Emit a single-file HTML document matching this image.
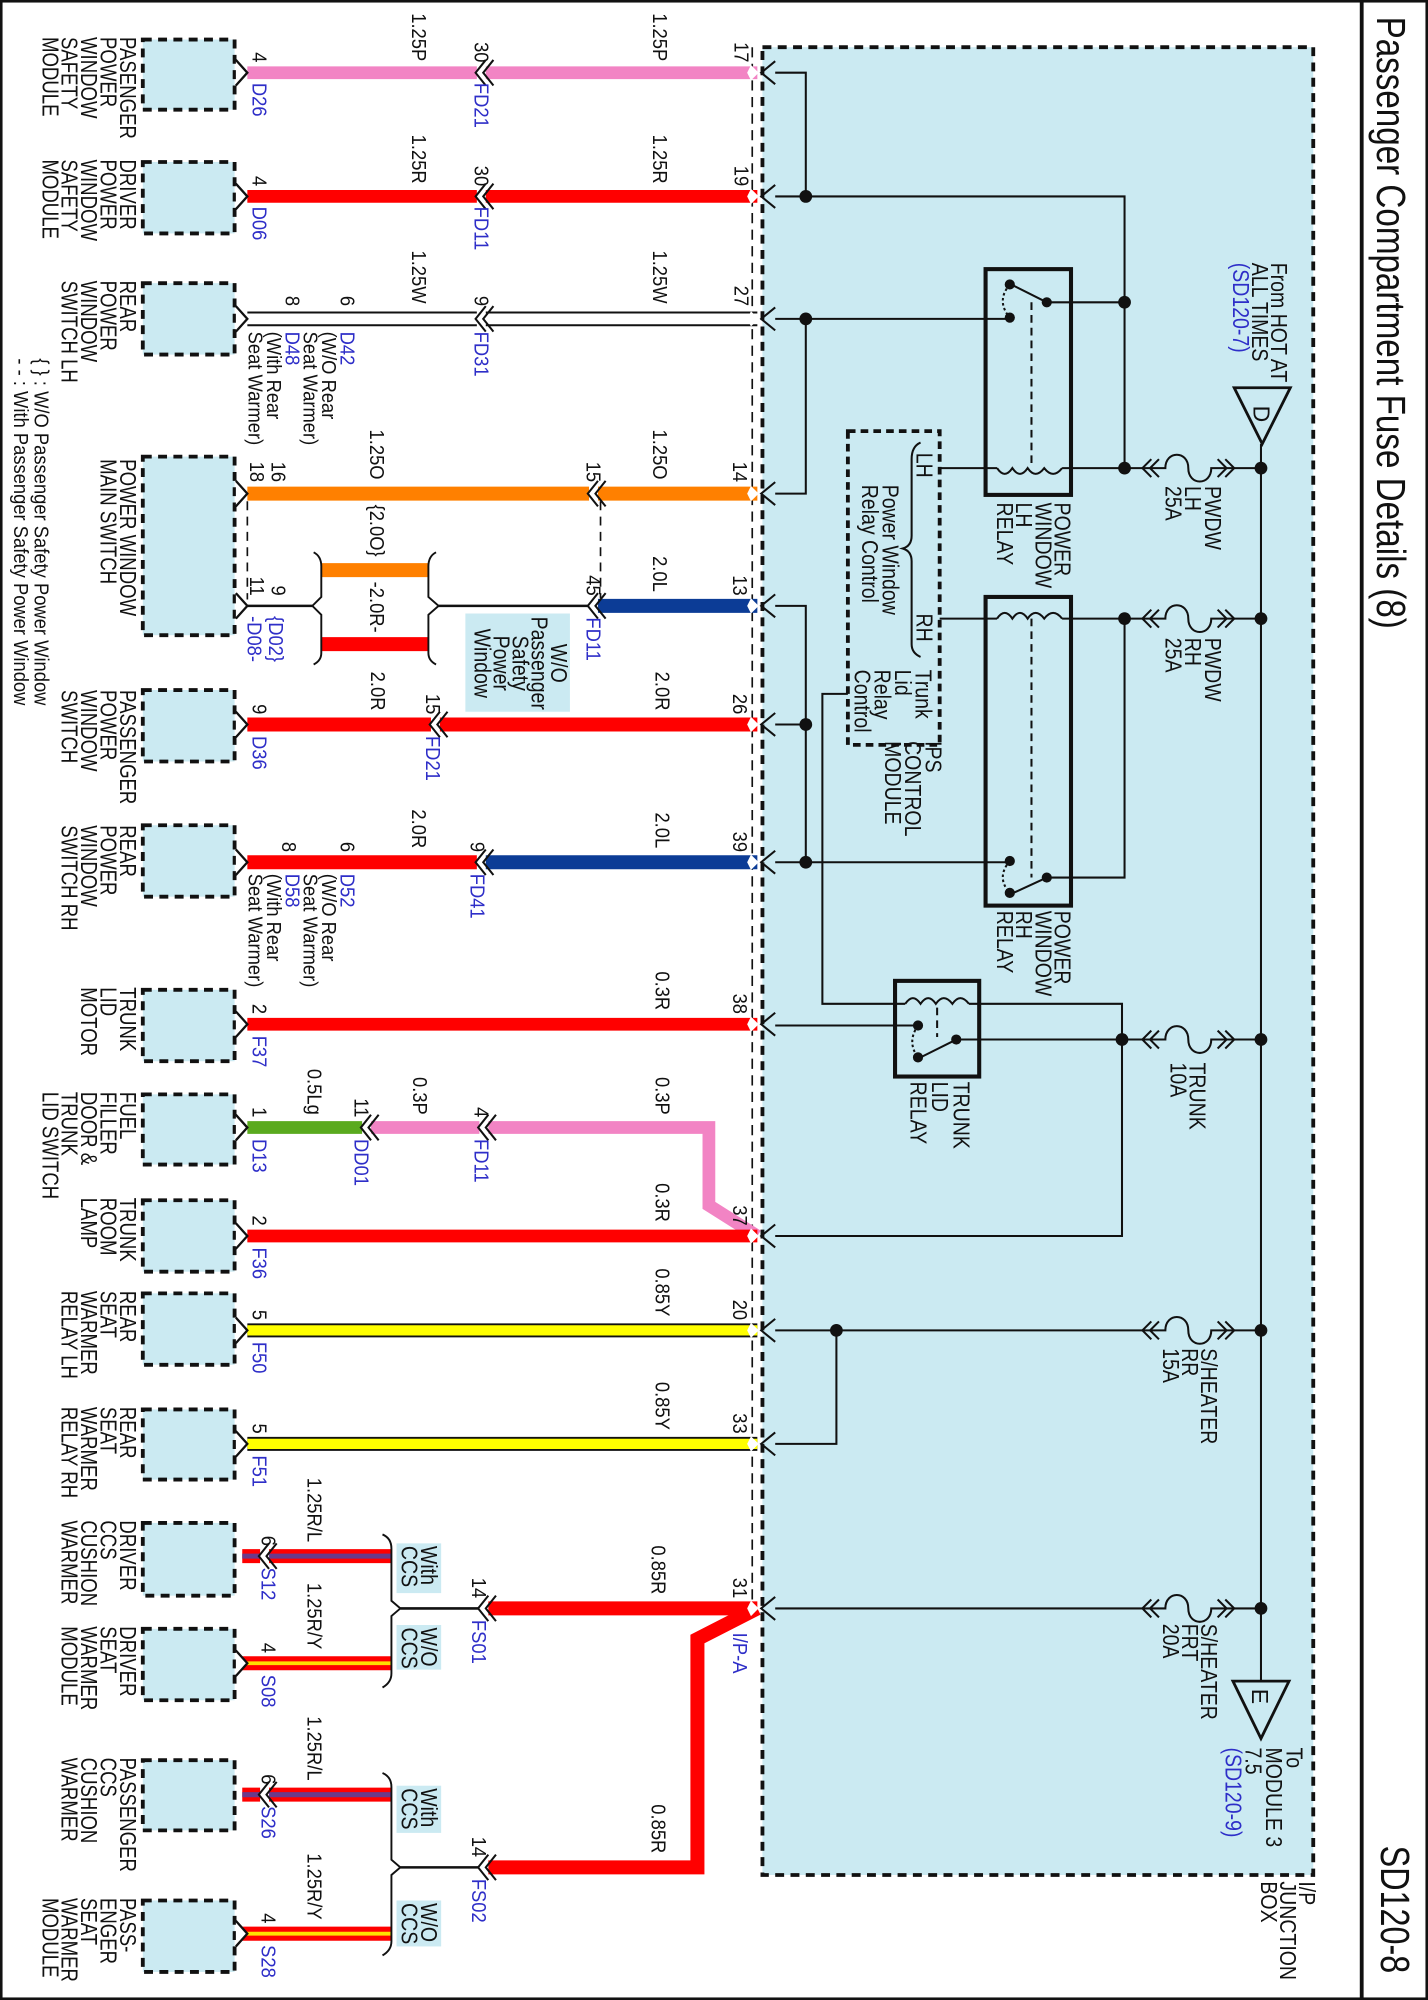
<!DOCTYPE html>
<html><head><meta charset="utf-8"><style>
html,body{margin:0;padding:0;background:#fff}
svg{display:block}
text{font-family:"Liberation Sans",Arial,sans-serif;fill:#111}
.m{font-size:18px}
.s{font-size:16px}
.b{fill:#2e2ec8}
.e{text-anchor:end}
.c{text-anchor:middle}
</style></head><body>
<svg width="1428" height="2000" viewBox="0 0 1120 1568" preserveAspectRatio="none" xmlns="http://www.w3.org/2000/svg">
<defs>
<g id="mc"><rect x="-4" y="-7" width="7" height="14" fill="#fff"/><polyline points="3,-10 -5,0 3,10" fill="none" stroke="#111" stroke-width="1.6"/><polyline points="9,-10 1,0 9,10" fill="none" stroke="#111" stroke-width="1.6"/></g>
<g id="rc"><polygon points="-5,-6 1,0 -5,6 -8,0" fill="#fff"/><polyline points="14,-9 3,0 14,9" fill="none" stroke="#111" stroke-width="1.6"/></g>
<g id="lc"><polyline points="-7,-10 2,0 -7,10" fill="#fff" stroke="#111" stroke-width="1.8"/></g>
<g id="fuse" fill="none" stroke="#111" stroke-width="1.6">
<polyline points="903,-7 896,0 903,7"/><polyline points="909,-7 902,0 909,7"/>
<path d="M896,0 H914 C914,-14 932,-14 932,0 C932,14 950,14 950,0 H968"/>
<polyline points="955,-7 962,0 955,7"/><polyline points="961,-7 968,0 961,7"/>
<path d="M968,0 H989"/></g>
</defs>

<!-- frame -->
<rect x="1" y="1" width="1118" height="1566" fill="none" stroke="#111" stroke-width="2"/>
<line x1="1068" y1="0" x2="1068" y2="1568" stroke="#111" stroke-width="3"/>
<text style="font-size:32px" textLength="480" lengthAdjust="spacingAndGlyphs" transform="translate(1080,13) rotate(90)">Passenger Compartment Fuse Details (8)</text>
<text style="font-size:32px" textLength="100" lengthAdjust="spacingAndGlyphs" transform="translate(1083,1447) rotate(90)">SD120-8</text>

<!-- junction box -->
<rect x="598" y="37" width="432" height="1433" fill="#cbeaf2" stroke="#111" stroke-width="3" stroke-dasharray="7 5"/>
<line x1="590" y1="37" x2="590" y2="1254" stroke="#111" stroke-width="1.3" stroke-dasharray="8 5"/>

<!-- module boxes -->
<g fill="#cbeaf2" stroke="#111" stroke-width="3" stroke-dasharray="7 5">
<rect x="112" y="31" width="72" height="55"/>
<rect x="112" y="127" width="72" height="56"/>
<rect x="112" y="222" width="72" height="56"/>
<rect x="112" y="358" width="72" height="140"/>
<rect x="112" y="541" width="72" height="56"/>
<rect x="112" y="647" width="72" height="56"/>
<rect x="112" y="776" width="72" height="56"/>
<rect x="112" y="858" width="72" height="55"/>
<rect x="112" y="941" width="72" height="56"/>
<rect x="112" y="1014" width="72" height="56"/>
<rect x="112" y="1105" width="72" height="55"/>
<rect x="112" y="1194" width="72" height="57"/>
<rect x="112" y="1277" width="72" height="56"/>
<rect x="112" y="1380" width="72" height="55"/>
<rect x="112" y="1490" width="72" height="56"/>
</g>

<!-- module labels -->
<g class="m">
<text class="m" transform="translate(94,29) rotate(90) scale(.81,1)"><tspan x="0">PASENGER</tspan><tspan x="0" dy="15.2">POWER</tspan><tspan x="0" dy="15.2">WINDOW</tspan><tspan x="0" dy="15.2">SAFETY</tspan><tspan x="0" dy="15.2">MODULE</tspan></text>
<text class="m" transform="translate(94,125) rotate(90) scale(.81,1)"><tspan x="0">DRIVER</tspan><tspan x="0" dy="15.2">POWER</tspan><tspan x="0" dy="15.2">WINDOW</tspan><tspan x="0" dy="15.2">SAFETY</tspan><tspan x="0" dy="15.2">MODULE</tspan></text>
<text class="m" transform="translate(94,220) rotate(90) scale(.81,1)"><tspan x="0">REAR</tspan><tspan x="0" dy="15.2">POWER</tspan><tspan x="0" dy="15.2">WINDOW</tspan><tspan x="0" dy="15.2">SWITCH LH</tspan></text>
<text class="m" transform="translate(94,360) rotate(90) scale(.81,1)"><tspan x="0">POWER WINDOW</tspan><tspan x="0" dy="15.2">MAIN SWITCH</tspan></text>
<text class="m" transform="translate(94,541) rotate(90) scale(.81,1)"><tspan x="0">PASSENGER</tspan><tspan x="0" dy="15.2">POWER</tspan><tspan x="0" dy="15.2">WINDOW</tspan><tspan x="0" dy="15.2">SWITCH</tspan></text>
<text class="m" transform="translate(94,647) rotate(90) scale(.81,1)"><tspan x="0">REAR</tspan><tspan x="0" dy="15.2">POWER</tspan><tspan x="0" dy="15.2">WINDOW</tspan><tspan x="0" dy="15.2">SWITCH RH</tspan></text>
<text class="m" transform="translate(94,774) rotate(90) scale(.81,1)"><tspan x="0">TRUNK</tspan><tspan x="0" dy="15.2">LID</tspan><tspan x="0" dy="15.2">MOTOR</tspan></text>
<text class="m" transform="translate(94,856) rotate(90) scale(.81,1)"><tspan x="0">FUEL</tspan><tspan x="0" dy="15.2">FILLER</tspan><tspan x="0" dy="15.2">DOOR &amp;</tspan><tspan x="0" dy="15.2">TRUNK</tspan><tspan x="0" dy="15.2">LID SWITCH</tspan></text>
<text class="m" transform="translate(94,939) rotate(90) scale(.81,1)"><tspan x="0">TRUNK</tspan><tspan x="0" dy="15.2">ROOM</tspan><tspan x="0" dy="15.2">LAMP</tspan></text>
<text class="m" transform="translate(94,1012) rotate(90) scale(.81,1)"><tspan x="0">REAR</tspan><tspan x="0" dy="15.2">SEAT</tspan><tspan x="0" dy="15.2">WARMER</tspan><tspan x="0" dy="15.2">RELAY LH</tspan></text>
<text class="m" transform="translate(94,1103) rotate(90) scale(.81,1)"><tspan x="0">REAR</tspan><tspan x="0" dy="15.2">SEAT</tspan><tspan x="0" dy="15.2">WARMER</tspan><tspan x="0" dy="15.2">RELAY RH</tspan></text>
<text class="m" transform="translate(94,1192) rotate(90) scale(.81,1)"><tspan x="0">DRIVER</tspan><tspan x="0" dy="15.2">CCS</tspan><tspan x="0" dy="15.2">CUSHION</tspan><tspan x="0" dy="15.2">WARMER</tspan></text>
<text class="m" transform="translate(94,1275) rotate(90) scale(.81,1)"><tspan x="0">DRIVER</tspan><tspan x="0" dy="15.2">SEAT</tspan><tspan x="0" dy="15.2">WARMER</tspan><tspan x="0" dy="15.2">MODULE</tspan></text>
<text class="m" transform="translate(94,1378) rotate(90) scale(.81,1)"><tspan x="0">PASSENGER</tspan><tspan x="0" dy="15.2">CCS</tspan><tspan x="0" dy="15.2">CUSHION</tspan><tspan x="0" dy="15.2">WARMER</tspan></text>
<text class="m" transform="translate(94,1488) rotate(90) scale(.81,1)"><tspan x="0">PASS-</tspan><tspan x="0" dy="15.2">ENGER</tspan><tspan x="0" dy="15.2">SEAT</tspan><tspan x="0" dy="15.2">WARMER</tspan><tspan x="0" dy="15.2">MODULE</tspan></text>
<text class="s" transform="translate(27,281) rotate(90) scale(.9,1)">{ } : W/O Passenger Safety Power Window</text>
<text class="s" transform="translate(11,281) rotate(90) scale(.9,1)">- - : With Passenger Safety Power Window</text>
</g>

<!-- wires -->
<g fill="none" stroke-linecap="butt">
<line x1="194" y1="57" x2="594" y2="57" stroke="#f284c4" stroke-width="10"/>
<line x1="194" y1="154" x2="594" y2="154" stroke="#ff0000" stroke-width="10"/>
<line x1="194" y1="245" x2="594" y2="245" stroke="#111" stroke-width="1.5"/>
<line x1="194" y1="255" x2="594" y2="255" stroke="#111" stroke-width="1.5"/>
<line x1="194" y1="387" x2="594" y2="387" stroke="#ff8000" stroke-width="11"/>
<line x1="463" y1="475" x2="594" y2="475" stroke="#0c3c96" stroke-width="11"/>
<line x1="194" y1="475" x2="245" y2="475" stroke="#111" stroke-width="2"/>
<line x1="344" y1="475" x2="463" y2="475" stroke="#111" stroke-width="2"/>
<line x1="252" y1="447" x2="336" y2="447" stroke="#ff8000" stroke-width="11"/>
<line x1="252" y1="505" x2="336" y2="505" stroke="#ff0000" stroke-width="11"/>
<path d="M246,433 Q252,436 252,444 V468 L245,475 L252,482 V512 Q252,518 246,521" stroke="#111" stroke-width="1.5"/>
<path d="M342,433 Q336,436 336,444 V468 L344,475 L336,482 V512 Q336,518 342,521" stroke="#111" stroke-width="1.5"/>
<line x1="194" y1="393" x2="194" y2="470" stroke="#111" stroke-width="1.3" stroke-dasharray="7 5"/>
<line x1="471" y1="393" x2="471" y2="469" stroke="#111" stroke-width="1.3" stroke-dasharray="7 5"/>
<line x1="194" y1="568" x2="594" y2="568" stroke="#ff0000" stroke-width="11"/>
<line x1="194" y1="676" x2="375" y2="676" stroke="#ff0000" stroke-width="11"/>
<line x1="375" y1="676" x2="594" y2="676" stroke="#0c3c96" stroke-width="11"/>
<line x1="194" y1="803" x2="594" y2="803" stroke="#ff0000" stroke-width="10"/>
<line x1="194" y1="884" x2="285" y2="884" stroke="#5aaa1e" stroke-width="10"/>
<path d="M285,884 H556 V945 L594,969" stroke="#f284c4" stroke-width="10"/>
<line x1="194" y1="969" x2="594" y2="969" stroke="#ff0000" stroke-width="10"/>
<line x1="194" y1="1043" x2="594" y2="1043" stroke="#111" stroke-width="11"/>
<line x1="194" y1="1043" x2="594" y2="1043" stroke="#ffff00" stroke-width="8"/>
<line x1="194" y1="1132" x2="594" y2="1132" stroke="#111" stroke-width="11"/>
<line x1="194" y1="1132" x2="594" y2="1132" stroke="#ffff00" stroke-width="8"/>
<!-- CCS -->
<line x1="190" y1="1220" x2="307" y2="1220" stroke="#ff0000" stroke-width="11"/>
<line x1="190" y1="1220" x2="307" y2="1220" stroke="#6a3a8a" stroke-width="4"/>
<line x1="190" y1="1304" x2="307" y2="1304" stroke="#ff0000" stroke-width="11"/>
<line x1="190" y1="1304" x2="307" y2="1304" stroke="#ffe000" stroke-width="3"/>
<line x1="190" y1="1407" x2="307" y2="1407" stroke="#ff0000" stroke-width="11"/>
<line x1="190" y1="1407" x2="307" y2="1407" stroke="#6a3a8a" stroke-width="4"/>
<line x1="190" y1="1516" x2="307" y2="1516" stroke="#ff0000" stroke-width="11"/>
<line x1="190" y1="1516" x2="307" y2="1516" stroke="#ffe000" stroke-width="3"/>
<path d="M300,1203 Q307,1206 307,1214 V1255 L314,1261 L307,1267 V1312 Q307,1319 300,1323" stroke="#111" stroke-width="1.5"/>
<path d="M300,1390 Q307,1393 307,1401 V1458 L314,1464 L307,1470 V1522 Q307,1529 300,1533" stroke="#111" stroke-width="1.5"/>
<line x1="314" y1="1261" x2="379" y2="1261" stroke="#111" stroke-width="2"/>
<line x1="314" y1="1464" x2="379" y2="1464" stroke="#111" stroke-width="2"/>
<path d="M379,1261 H594" stroke="#ff0000" stroke-width="11"/>
<path d="M594,1261 L547,1285 V1464 H379" stroke="#ff0000" stroke-width="11"/>
</g>

<!-- connectors -->
<g>
<use href="#lc" x="192" y="57"/><use href="#lc" x="192" y="154"/><use href="#lc" x="192" y="250"/>
<use href="#lc" x="192" y="387"/><use href="#lc" x="192" y="475"/><use href="#lc" x="192" y="568"/>
<use href="#lc" x="192" y="676"/><use href="#lc" x="192" y="803"/><use href="#lc" x="192" y="884"/>
<use href="#lc" x="192" y="969"/><use href="#lc" x="192" y="1043"/><use href="#lc" x="192" y="1132"/>
<use href="#lc" x="192" y="1304"/><use href="#lc" x="192" y="1516"/>
<use href="#mc" x="208" y="1220"/><use href="#mc" x="208" y="1407"/>
<use href="#mc" x="378" y="57"/><use href="#mc" x="378" y="154"/><use href="#mc" x="378" y="250"/>
<use href="#mc" x="466" y="387"/><use href="#mc" x="466" y="475"/><use href="#mc" x="342" y="568"/>
<use href="#mc" x="378" y="676"/><use href="#mc" x="288" y="884"/><use href="#mc" x="380" y="884"/>
<use href="#mc" x="380" y="1261"/><use href="#mc" x="380" y="1464"/>
<use href="#rc" x="594" y="57"/><use href="#rc" x="594" y="154"/><use href="#rc" x="594" y="250"/>
<use href="#rc" x="594" y="387"/><use href="#rc" x="594" y="475"/><use href="#rc" x="594" y="568"/>
<use href="#rc" x="594" y="676"/><use href="#rc" x="594" y="803"/><use href="#rc" x="594" y="969"/>
<use href="#rc" x="594" y="1043"/><use href="#rc" x="594" y="1132"/><use href="#rc" x="594" y="1261"/>
</g>

<!-- label boxes -->
<rect x="365" y="481" width="82" height="77" fill="#cbeaf2"/>
<rect x="311" y="1210" width="35" height="39" fill="#cbeaf2"/>
<rect x="311" y="1274" width="35" height="35" fill="#cbeaf2"/>
<rect x="311" y="1400" width="35" height="37" fill="#cbeaf2"/>
<rect x="311" y="1490" width="35" height="36" fill="#cbeaf2"/>

<!-- internal circuit -->
<g fill="none" stroke="#111" stroke-width="1.6">
<path d="M608,57 H632 V154"/>
<path d="M608,154 H882 V367"/>
<path d="M821,237 H882"/>
<path d="M608,250 H792"/>
<path d="M632,250 V387 H608"/>
<path d="M737,367 H782 M833,367 H896"/>
<path d="M737,485 H782 M833,485 H896"/>
<path d="M882,485 V688 H821"/>
<path d="M608,475 H632 V676 H608 M632,568 H608 M632,676 H792"/>
<path d="M665,544 H645 V787 H710 M760,787 H880 V969 H608"/>
<path d="M608,804 H720"/>
<path d="M750,815 H896"/>
<path d="M608,1043 H896 M656,1043 V1132 H608"/>
<path d="M608,1261 H896"/>
<path d="M989,348 V1318"/>
<!-- coils -->
<path d="M782,367 q6,9 12,0 q6,9 12,0 q6,9 13,0 q7,9 14,0"/>
<path d="M782,485 q6,-9 12,0 q6,-9 12,0 q6,-9 13,0 q7,-9 14,0"/>
<path d="M710,787 q6,-9 12,0 q6,-9 12,0 q6,-9 13,0 q6,-9 13,0"/>
<path d="M809,237 V367 M809,485 V688 M735,790 V813" stroke-dasharray="6 4"/>
<path d="M821,237 L795,224 M821,688 L795,700 M750,815 L722,829"/>
<path d="M792,223 Q781,236 792,249 M792,675 Q781,688 792,700 M720,804 Q711,817 720,829" stroke-dasharray="2 2"/>
<rect x="773" y="211" width="67" height="177" stroke-width="3.2"/>
<rect x="773" y="468" width="67" height="242" stroke-width="3.2"/>
<rect x="702" y="769" width="66" height="75" stroke-width="3.2"/>
<rect x="665" y="338" width="72" height="246" stroke-width="3" stroke-dasharray="6 4"/>
<path d="M722,347 Q715,350 715,360 V420 Q715,428 708,430 Q715,432 715,440 V505 Q715,512 722,515"/>
<polygon points="968,304 1012,304 990,348" stroke-width="2.2"/>
<polygon points="967,1318 1011,1318 989,1363" stroke-width="2.2"/>
</g>
<use href="#fuse" y="367"/><use href="#fuse" y="485"/><use href="#fuse" y="815"/>
<use href="#fuse" y="1043"/><use href="#fuse" y="1261"/>
<g fill="#111">
<circle cx="632" cy="154" r="5"/><circle cx="632" cy="250" r="5"/><circle cx="882" cy="237" r="5"/>
<circle cx="882" cy="367" r="5"/><circle cx="882" cy="485" r="5"/><circle cx="632" cy="568" r="5"/>
<circle cx="632" cy="676" r="5"/><circle cx="880" cy="815" r="5"/><circle cx="656" cy="1043" r="5"/>
<circle cx="989" cy="367" r="5"/><circle cx="989" cy="485" r="5"/><circle cx="989" cy="815" r="5"/>
<circle cx="989" cy="1043" r="5"/><circle cx="989" cy="1261" r="5"/>
<circle cx="792" cy="223" r="4"/><circle cx="821" cy="237" r="4"/><circle cx="792" cy="249" r="4"/>
<circle cx="792" cy="675" r="4"/><circle cx="821" cy="688" r="4"/><circle cx="792" cy="700" r="4"/>
<circle cx="720" cy="804" r="4"/><circle cx="750" cy="815" r="4"/><circle cx="720" cy="829" r="4"/>
</g>

<!-- internal labels -->
<text class="m" transform="translate(997,206) rotate(90) scale(.85,1)"><tspan x="0">From HOT AT</tspan><tspan x="0" dy="15">ALL TIMES</tspan><tspan x="0" dy="15" class="b">(SD120-7)</tspan></text>
<text class="m" transform="translate(983,318) rotate(90)">D</text>
<text class="m" transform="translate(982,1324) rotate(90)">E</text>
<text class="m" transform="translate(945,381) rotate(90) scale(.85,1)"><tspan x="0">PWDW</tspan><tspan x="0" dy="15.5">LH</tspan><tspan x="0" dy="15.5">25A</tspan></text>
<text class="m" transform="translate(945,500) rotate(90) scale(.85,1)"><tspan x="0">PWDW</tspan><tspan x="0" dy="15.5">RH</tspan><tspan x="0" dy="15.5">25A</tspan></text>
<text class="m" transform="translate(933,833) rotate(90) scale(.85,1)"><tspan x="0">TRUNK</tspan><tspan x="0" dy="15">10A</tspan></text>
<text class="m" transform="translate(942,1057) rotate(90) scale(.85,1)"><tspan x="0">S/HEATER</tspan><tspan x="0" dy="15">RR</tspan><tspan x="0" dy="15">15A</tspan></text>
<text class="m" transform="translate(942,1273) rotate(90) scale(.85,1)"><tspan x="0">S/HEATER</tspan><tspan x="0" dy="15">FRT</tspan><tspan x="0" dy="15">20A</tspan></text>
<text class="m" transform="translate(1009,1370) rotate(90) scale(.85,1)"><tspan x="0">To</tspan><tspan x="0" dy="16">MODULE 3</tspan><tspan x="0" dy="16">7.5</tspan><tspan x="0" dy="16" class="b">(SD120-9)</tspan></text>
<text class="m" transform="translate(1019,1475) rotate(90) scale(.85,1)"><tspan x="0">I/P</tspan><tspan x="0" dy="15">JUNCTION</tspan><tspan x="0" dy="15">BOX</tspan></text>
<text class="m" transform="translate(827,394) rotate(90) scale(.85,1)"><tspan x="0">POWER</tspan><tspan x="0" dy="15">WINDOW</tspan><tspan x="0" dy="15">LH</tspan><tspan x="0" dy="15">RELAY</tspan></text>
<text class="m" transform="translate(827,714) rotate(90) scale(.85,1)"><tspan x="0">POWER</tspan><tspan x="0" dy="15">WINDOW</tspan><tspan x="0" dy="15">RH</tspan><tspan x="0" dy="15">RELAY</tspan></text>
<text class="m" transform="translate(748,848) rotate(90) scale(.85,1)"><tspan x="0">TRUNK</tspan><tspan x="0" dy="17">LID</tspan><tspan x="0" dy="17">RELAY</tspan></text>
<text class="m" transform="translate(726,581) rotate(90) scale(.85,1)"><tspan x="0">IPS</tspan><tspan x="0" dy="16">CONTROL</tspan><tspan x="0" dy="16">MODULE</tspan></text>
<text class="m" transform="translate(719,355) rotate(90) scale(.85,1)">LH</text>
<text class="m" transform="translate(719,481) rotate(90) scale(.85,1)">RH</text>
<text class="m" transform="translate(692,380) rotate(90) scale(.85,1)"><tspan x="0">Power Window</tspan><tspan x="0" dy="16">Relay Control</tspan></text>
<text class="m" transform="translate(718,525) rotate(90) scale(.85,1)"><tspan x="0">Trunk</tspan><tspan x="0" dy="16">Lid</tspan><tspan x="0" dy="16">Relay</tspan><tspan x="0" dy="16">Control</tspan></text>
<text class="m c" transform="translate(432,520) rotate(90) scale(.85,1)"><tspan x="0">W/O</tspan><tspan x="0" dy="15">Passenger</tspan><tspan x="0" dy="15">Safety</tspan><tspan x="0" dy="15">Power</tspan><tspan x="0" dy="15">Window</tspan></text>
<text class="m" transform="translate(330,1212) rotate(90) scale(.85,1)"><tspan x="0">With</tspan><tspan x="0" dy="15">CCS</tspan></text>
<text class="m" transform="translate(330,1276) rotate(90) scale(.85,1)"><tspan x="0">W/O</tspan><tspan x="0" dy="15">CCS</tspan></text>
<text class="m" transform="translate(330,1402) rotate(90) scale(.85,1)"><tspan x="0">With</tspan><tspan x="0" dy="15">CCS</tspan></text>
<text class="m" transform="translate(330,1492) rotate(90) scale(.85,1)"><tspan x="0">W/O</tspan><tspan x="0" dy="15">CCS</tspan></text>

<!-- wire labels (end-anchored above wires) -->
<g>
<text class="s e" transform="translate(323,48) rotate(90) scale(.9,1)">1.25P</text>
<text class="s e" transform="translate(512,48) rotate(90) scale(.9,1)">1.25P</text>
<text class="s e" transform="translate(372,49) rotate(90) scale(.9,1)">30</text>
<text class="s e" transform="translate(576,49) rotate(90) scale(.9,1)">17</text>
<text class="s e" transform="translate(198,49) rotate(90) scale(.9,1)">4</text>
<text class="s e" transform="translate(323,144) rotate(90) scale(.9,1)">1.25R</text>
<text class="s e" transform="translate(512,144) rotate(90) scale(.9,1)">1.25R</text>
<text class="s e" transform="translate(372,146) rotate(90) scale(.9,1)">30</text>
<text class="s e" transform="translate(576,146) rotate(90) scale(.9,1)">19</text>
<text class="s e" transform="translate(198,146) rotate(90) scale(.9,1)">4</text>
<text class="s e" transform="translate(323,238) rotate(90) scale(.9,1)">1.25W</text>
<text class="s e" transform="translate(512,238) rotate(90) scale(.9,1)">1.25W</text>
<text class="s e" transform="translate(372,240) rotate(90) scale(.9,1)">9</text>
<text class="s e" transform="translate(576,240) rotate(90) scale(.9,1)">27</text>
<text class="s e" transform="translate(267,240) rotate(90) scale(.9,1)">6</text>
<text class="s e" transform="translate(224,240) rotate(90) scale(.9,1)">8</text>
<text class="s e" transform="translate(290,376) rotate(90) scale(.9,1)">1.25O</text>
<text class="s e" transform="translate(512,376) rotate(90) scale(.9,1)">1.25O</text>
<text class="s e" transform="translate(460,378) rotate(90) scale(.9,1)">15</text>
<text class="s e" transform="translate(575,378) rotate(90) scale(.9,1)">14</text>
<text class="s e" transform="translate(213,378) rotate(90) scale(.9,1)">16</text>
<text class="s e" transform="translate(196,378) rotate(90) scale(.9,1)">18</text>
<text class="s c" transform="translate(290,416) rotate(90) scale(.9,1)">{2.0O}</text>
<text class="s c" transform="translate(290,476) rotate(90) scale(.9,1)">-2.0R-</text>
<text class="s e" transform="translate(512,464) rotate(90) scale(.9,1)">2.0L</text>
<text class="s e" transform="translate(460,467) rotate(90) scale(.9,1)">45</text>
<text class="s e" transform="translate(575,467) rotate(90) scale(.9,1)">13</text>
<text class="s e" transform="translate(213,467) rotate(90) scale(.9,1)">9</text>
<text class="s e" transform="translate(196,467) rotate(90) scale(.9,1)">11</text>
<text class="s e" transform="translate(291,557) rotate(90) scale(.9,1)">2.0R</text>
<text class="s e" transform="translate(514,557) rotate(90) scale(.9,1)">2.0R</text>
<text class="s e" transform="translate(334,560) rotate(90) scale(.9,1)">15</text>
<text class="s e" transform="translate(575,560) rotate(90) scale(.9,1)">26</text>
<text class="s e" transform="translate(198,560) rotate(90) scale(.9,1)">9</text>
<text class="s e" transform="translate(323,665) rotate(90) scale(.9,1)">2.0R</text>
<text class="s e" transform="translate(514,665) rotate(90) scale(.9,1)">2.0L</text>
<text class="s e" transform="translate(369,668) rotate(90) scale(.9,1)">9</text>
<text class="s e" transform="translate(575,668) rotate(90) scale(.9,1)">39</text>
<text class="s e" transform="translate(267,668) rotate(90) scale(.9,1)">6</text>
<text class="s e" transform="translate(221,668) rotate(90) scale(.9,1)">8</text>
<text class="s e" transform="translate(514,792) rotate(90) scale(.9,1)">0.3R</text>
<text class="s e" transform="translate(575,795) rotate(90) scale(.9,1)">38</text>
<text class="s e" transform="translate(198,795) rotate(90) scale(.9,1)">2</text>
<text class="s e" transform="translate(241,874) rotate(90) scale(.9,1)">0.5Lg</text>
<text class="s e" transform="translate(324,874) rotate(90) scale(.9,1)">0.3P</text>
<text class="s e" transform="translate(514,874) rotate(90) scale(.9,1)">0.3P</text>
<text class="s e" transform="translate(278,876) rotate(90) scale(.9,1)">11</text>
<text class="s e" transform="translate(372,876) rotate(90) scale(.9,1)">4</text>
<text class="s e" transform="translate(198,876) rotate(90) scale(.9,1)">1</text>
<text class="s e" transform="translate(514,958) rotate(90) scale(.9,1)">0.3R</text>
<text class="s e" transform="translate(575,961) rotate(90) scale(.9,1)">37</text>
<text class="s e" transform="translate(198,961) rotate(90) scale(.9,1)">2</text>
<text class="s e" transform="translate(514,1032) rotate(90) scale(.9,1)">0.85Y</text>
<text class="s e" transform="translate(575,1035) rotate(90) scale(.9,1)">20</text>
<text class="s e" transform="translate(198,1035) rotate(90) scale(.9,1)">5</text>
<text class="s e" transform="translate(514,1121) rotate(90) scale(.9,1)">0.85Y</text>
<text class="s e" transform="translate(575,1124) rotate(90) scale(.9,1)">33</text>
<text class="s e" transform="translate(198,1124) rotate(90) scale(.9,1)">5</text>
<text class="s e" transform="translate(241,1209) rotate(90) scale(.9,1)">1.25R/L</text>
<text class="s e" transform="translate(205,1212) rotate(90) scale(.9,1)">6</text>
<text class="s e" transform="translate(511,1250) rotate(90) scale(.9,1)">0.85R</text>
<text class="s e" transform="translate(370,1253) rotate(90) scale(.9,1)">14</text>
<text class="s e" transform="translate(575,1253) rotate(90) scale(.9,1)">31</text>
<text class="s e" transform="translate(241,1293) rotate(90) scale(.9,1)">1.25R/Y</text>
<text class="s e" transform="translate(205,1296) rotate(90) scale(.9,1)">4</text>
<text class="s e" transform="translate(241,1396) rotate(90) scale(.9,1)">1.25R/L</text>
<text class="s e" transform="translate(205,1399) rotate(90) scale(.9,1)">6</text>
<text class="s e" transform="translate(511,1453) rotate(90) scale(.9,1)">0.85R</text>
<text class="s e" transform="translate(370,1456) rotate(90) scale(.9,1)">14</text>
<text class="s e" transform="translate(241,1505) rotate(90) scale(.9,1)">1.25R/Y</text>
<text class="s e" transform="translate(205,1508) rotate(90) scale(.9,1)">4</text>
</g>

<!-- blue connector names (below wires) -->
<g>
<text class="s b" transform="translate(198,65) rotate(90) scale(.9,1)">D26</text>
<text class="s b" transform="translate(372,65) rotate(90) scale(.9,1)">FD21</text>
<text class="s b" transform="translate(198,162) rotate(90) scale(.9,1)">D06</text>
<text class="s b" transform="translate(372,162) rotate(90) scale(.9,1)">FD11</text>
<text class="s b" transform="translate(372,260) rotate(90) scale(.9,1)">FD31</text>
<text class="s" transform="translate(267,260) rotate(90) scale(.9,1)"><tspan x="0" class="b">D42</tspan><tspan x="0" dy="14.4">(W/O Rear</tspan><tspan x="0" dy="14.4">Seat Warmer)</tspan><tspan x="0" dy="14.4" class="b">D48</tspan><tspan x="0" dy="14.4">(With Rear</tspan><tspan x="0" dy="14.4">Seat Warmer)</tspan></text>
<text class="s b" transform="translate(460,484) rotate(90) scale(.9,1)">FD11</text>
<text class="s" transform="translate(211,483) rotate(90) scale(.9,1)"><tspan x="0" class="b">{D02}</tspan><tspan x="0" dy="17" class="b">-D08-</tspan></text>
<text class="s b" transform="translate(198,577) rotate(90) scale(.9,1)">D36</text>
<text class="s b" transform="translate(334,577) rotate(90) scale(.9,1)">FD21</text>
<text class="s b" transform="translate(369,685) rotate(90) scale(.9,1)">FD41</text>
<text class="s" transform="translate(267,685) rotate(90) scale(.9,1)"><tspan x="0" class="b">D52</tspan><tspan x="0" dy="14.4">(W/O Rear</tspan><tspan x="0" dy="14.4">Seat Warmer)</tspan><tspan x="0" dy="14.4" class="b">D58</tspan><tspan x="0" dy="14.4">(With Rear</tspan><tspan x="0" dy="14.4">Seat Warmer)</tspan></text>
<text class="s b" transform="translate(198,812) rotate(90) scale(.9,1)">F37</text>
<text class="s b" transform="translate(198,893) rotate(90) scale(.9,1)">D13</text>
<text class="s b" transform="translate(278,893) rotate(90) scale(.9,1)">DD01</text>
<text class="s b" transform="translate(372,893) rotate(90) scale(.9,1)">FD11</text>
<text class="s b" transform="translate(198,978) rotate(90) scale(.9,1)">F36</text>
<text class="s b" transform="translate(198,1052) rotate(90) scale(.9,1)">F50</text>
<text class="s b" transform="translate(198,1141) rotate(90) scale(.9,1)">F51</text>
<text class="s b" transform="translate(205,1229) rotate(90) scale(.9,1)">S12</text>
<text class="s b" transform="translate(370,1270) rotate(90) scale(.9,1)">FS01</text>
<text class="s b" transform="translate(575,1280) rotate(90) scale(.9,1)">I/P-A</text>
<text class="s b" transform="translate(205,1313) rotate(90) scale(.9,1)">S08</text>
<text class="s b" transform="translate(205,1416) rotate(90) scale(.9,1)">S26</text>
<text class="s b" transform="translate(370,1473) rotate(90) scale(.9,1)">FS02</text>
<text class="s b" transform="translate(205,1525) rotate(90) scale(.9,1)">S28</text>
</g>
</svg>
</body></html>
